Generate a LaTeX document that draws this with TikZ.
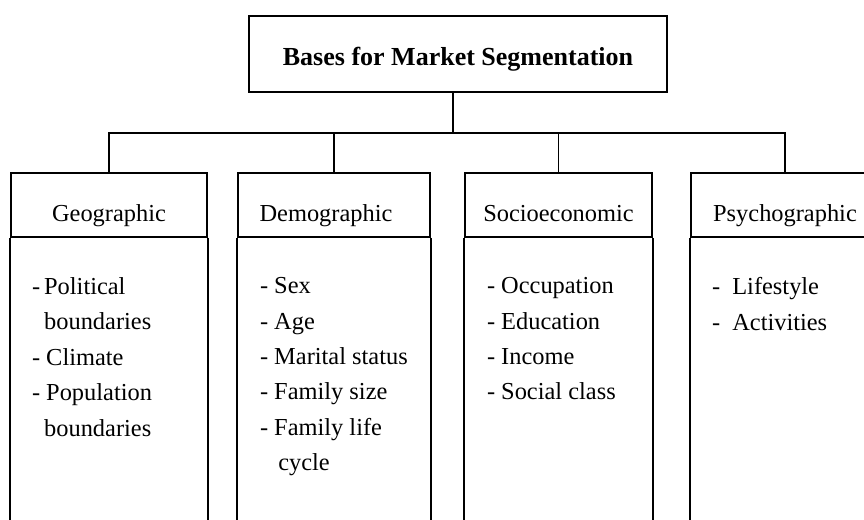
\documentclass[tikz,border=0pt]{standalone}
\usepackage{fontspec}
\setmainfont{Liberation Serif}
\usetikzlibrary{positioning}

\begin{document}
\begin{tikzpicture}[
  x=0.75pt, y=-0.75pt,
  line width=1.3pt,
  titlebox/.style={draw, minimum width=313.5pt, minimum height=57pt, inner sep=0pt,
                   text height=16.5pt, text depth=0pt,
                   font=\fontsize{19.5}{23}\selectfont\bfseries},
  headbox/.style={draw, minimum height=48pt, inner sep=0pt,
                  text height=24pt, text depth=0pt,
                  font=\fontsize{18.3}{22}\selectfont},
  itemlist/.style={anchor=north west, align=left, inner sep=0pt,
                   font=\fontsize{18.3}{26.6}\selectfont},
]
  \useasboundingbox (0,0) rectangle (864,519);
  \clip (0,0) rectangle (864,519);

  % top box
  \node[titlebox] (title) at (458,54) {Bases for Market Segmentation};

  % the four bases
  \node[headbox, minimum width=147pt]    (geo)   at (109,205)   {Geographic};
  \node[headbox, minimum width=144pt]    (demo)  at (334,205)   {Demographic\kern12pt};
  \node[headbox, minimum width=140.25pt] (socio) at (558.5,205) {Socioeconomic};
  \node[headbox, minimum width=141pt]    (psy)   at (785,205)   {Psychographic};

  % open columns below each heading
  \foreach \n in {geo, demo, socio, psy}
    \draw (\n.south west) -- (\n.south west |- 0,540) (\n.south east) -- (\n.south east |- 0,540);

  % tree lines
  \coordinate (bus) at ([xshift=-3.75pt]title.south |- 0,133);
  \draw ([xshift=-3.75pt]title.south) -- (bus);
  \foreach \n in {geo, demo, socio, psy}
    \draw (bus) -| (\n.north);

  % lists
  \node[itemlist] (geolist) at ([xshift=15.75pt, yshift=-29pt]geo.south west)
    {-\,Political\\\hphantom{-\,}boundaries\\- Climate\\- Population\\\hphantom{-\,}boundaries};
  \node[itemlist] (demolist) at ([xshift=16.5pt, yshift=-29pt]demo.south west)
    {- Sex\\- Age\\- Marital status\\- Family size\\- Family life\\\hphantom{- }\,cycle};
  \node[itemlist] (sociolist) at ([xshift=16.5pt, yshift=-29pt]socio.south west)
    {- Occupation\\- Education\\- Income\\- Social class};
  \node[itemlist] (psylist) at ([xshift=15.75pt, yshift=-29pt]psy.south west)
    {-\ \ Lifestyle\\-\ \ Activities};
\end{tikzpicture}
\end{document}
